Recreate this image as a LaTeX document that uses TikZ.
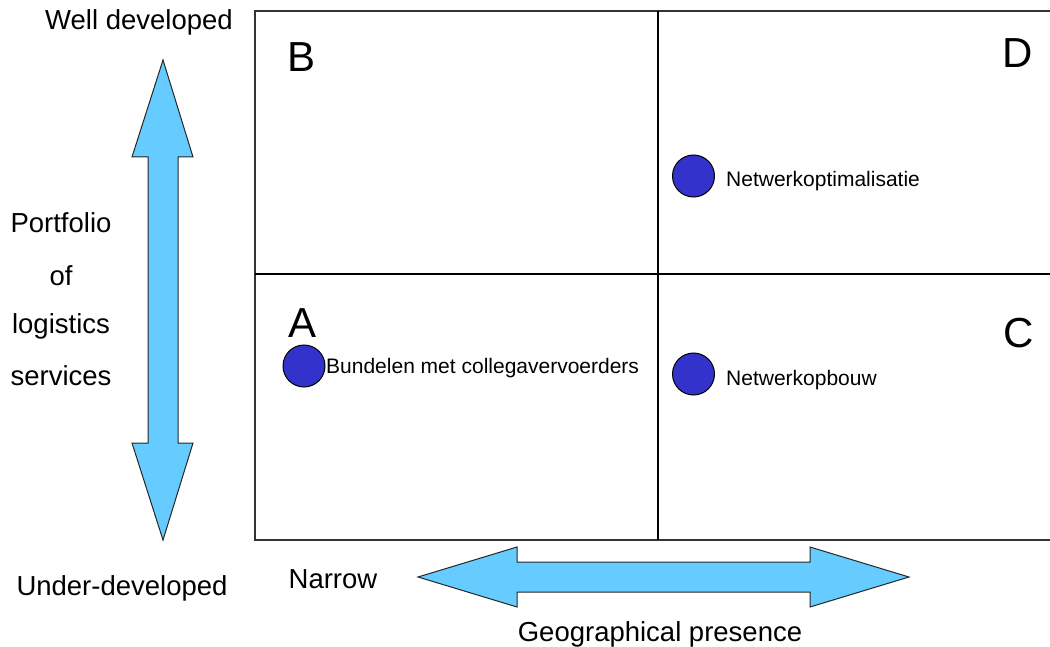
\documentclass[tikz,border=0pt]{standalone}
\usepackage{fontspec}
\setmainfont{Liberation Sans}
\usetikzlibrary{positioning}
\definecolor{pijlBlauw}{HTML}{66CCFF}
\definecolor{puntBlauw}{HTML}{3333CC}
\definecolor{lijnGrijs}{HTML}{333333}
\begin{document}
\begin{tikzpicture}[x=1pt,y=-1pt,
  askop/.style={inner sep=0pt,font=\fontsize{27.5}{30}\selectfont},
  letter/.style={inner sep=0pt,anchor=base west,font=\fontsize{42}{46}\selectfont},
  punt/.style={circle,draw=black,fill=puntBlauw,line width=1pt,minimum size=42pt,inner sep=0pt},
  puntlabel/.style={inner sep=0pt,anchor=base west,font=\fontsize{21}{24}\selectfont},
  pijl/.style={fill=pijlBlauw,draw=black!85,line width=1pt,line join=miter},
  raster/.style={draw=lijnGrijs,line width=1.5pt}]
\useasboundingbox (0,0) rectangle (1050,647);
% kwadranten
\draw[raster] (1050,11) -- (255,11) -- (255,540) -- (1050,540);
\draw[raster,black] (658,11) -- (658,540);
\draw[raster,black] (255,274) -- (1050,274);
\node[letter] (qB) at (287,72) {B};
\node[letter] (qD) at (1002,68) {D};
\node[letter] (qA) at (288,337) {A};
\node[letter] (qC) at (1003,347) {C};
% pijlen
\filldraw[pijl] (163,60) -- (193,157) -- (178,157) -- (178,443) -- (193,443) -- (163,540)
  -- (132,443) -- (148,443) -- (148,157) -- (132,157) -- cycle;
\filldraw[pijl] (418,577) -- (517,547) -- (517,562) -- (810,562) -- (810,547) -- (909,577)
  -- (810,607) -- (810,592) -- (517,592) -- (517,607) -- cycle;
% assen
\node[askop,anchor=base] (hoog) at (139,30) {Well developed};
\node[askop,anchor=base] (laag) at (122,595) {Under-developed};
\node[askop,anchor=base] (p1) at (61,233) {Portfolio};
\node[askop,anchor=base] (p2) at (61,285) {of};
\node[askop,anchor=base] (p3) at (61,334) {logistics};
\node[askop,anchor=base] (p4) at (61,385) {services};
\node[askop,anchor=base] (smal) at (333,588) {Narrow};
\node[askop,anchor=base] (geo) at (660,641) {Geographical presence};
% strategieen
\node[punt] (pA) at (304,366) {};
\node[puntlabel] (tA) at (326,373) {Bundelen met collegavervoerders};
\node[punt] (pD) at (693.5,176) {};
\node[puntlabel] (tD) at (726,187) {Netwerkoptimalisatie};
\node[punt] (pC) at (693.5,374) {};
\node[puntlabel] (tC) at (726,385) {Netwerkopbouw};
\end{tikzpicture}
\end{document}
